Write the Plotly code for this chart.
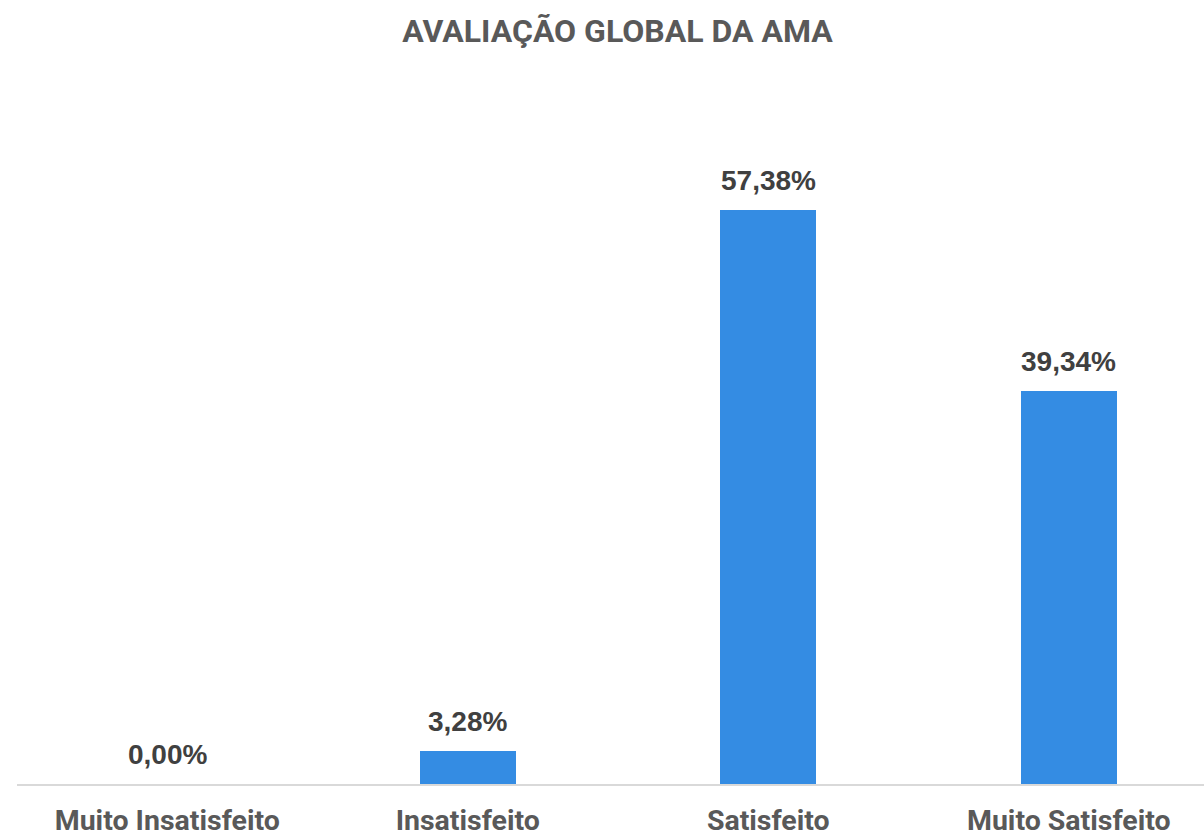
import plotly.graph_objects as go

categories = ["Muito Insatisfeito", "Insatisfeito", "Satisfeito", "Muito Satisfeito"]
values = [0.00, 3.28, 57.38, 39.34]
labels = ["0,00%", "3,28%", "57,38%", "39,34%"]
title_text = "AVALIAÇÃO GLOBAL DA AMA"

fig = go.Figure()
fig.add_trace(go.Bar(
    x=categories, y=values, width=0.32,
    marker=dict(color="#348CE3", line=dict(width=0)),
    hoverinfo="skip",
))
for c, v, t in zip(categories, values, labels):
    fig.add_annotation(x=c, y=v, text=t, showarrow=False, yanchor="bottom", yshift=12,
                       font=dict(family="Liberation Sans, Arial", size=28, color="#404040",
                                 weight="bold"))

fig.update_layout(
    width=1204, height=838,
    margin=dict(l=17, r=0, t=84, b=54, autoexpand=False),
    paper_bgcolor="white", plot_bgcolor="white",
    showlegend=False,
    title=dict(text="<b>" + title_text + "</b>", x=617.5 / 1204, xanchor="center",
               y=1 - 31 / 838, yanchor="middle", xref="container", yref="container",
               font=dict(family="Roboto", size=32, color="#595959")),
    xaxis=dict(range=[-0.5, 3.45], showline=True, linecolor="#D9D9D9", linewidth=2,
               showgrid=False, zeroline=False, ticks="", ticklabelstandoff=10, automargin=False,
               tickfont=dict(family="Roboto", size=28.5, color="#595959", weight="bold")),
    yaxis=dict(range=[0, 70], visible=False, showgrid=False, zeroline=False, automargin=False),
    bargap=0,
)
fig.write_html("out.html", config={"displayModeBar": False},
               post_script="document.body.style.margin='0';")
